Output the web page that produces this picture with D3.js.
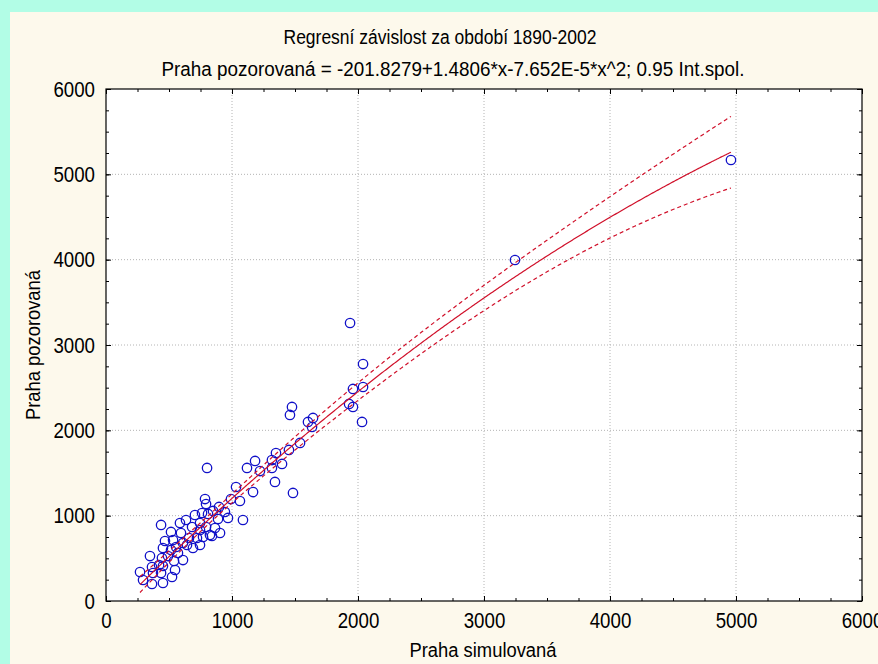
<!DOCTYPE html>
<html>
<head>
<meta charset="utf-8">
<script src="https://cdn.jsdelivr.net/npm/d3@7"></script>
<style>
  html, body { margin: 0; padding: 0; background: #b2fde6; }
  text { font-family: "Liberation Sans", Arial, sans-serif; fill: #000; }
</style>
</head>
<body>
<div id="chart"></div>
<script>
const simulovana = [4960, 3246, 1937, 2040, 2040, 1960, 1929, 1960, 2032, 1476,
  1460, 1603, 1643, 1635, 1540, 1452, 1349, 1183, 1317, 1397,
  1317, 1222, 1119, 802, 1341, 1167, 1484, 1032, 992, 1063,
  786, 794, 897, 849, 762, 810, 968, 1087, 889, 635,
  587, 437, 746, 683, 516, 595, 746, 841, 770, 905,
  722, 659, 746, 532, 611, 556, 452, 516, 611, 540,
  444, 349, 421, 452, 270, 365, 294, 524, 373, 437,
  365, 452, 548, 825, 794, 468, 643, 492, 571, 690,
  865, 944, 706];
const pozorovana = [5168, 3996, 3258, 2777, 2508, 2485, 2309, 2274, 2098, 2274,
  2180, 2098, 2145, 2039, 1852, 1770, 1734, 1641, 1652, 1606,
  1559, 1523, 1559, 1559, 1395, 1277, 1266, 1336, 1195, 1172,
  1195, 1137, 1102, 1055, 1031, 1020, 973, 949, 961, 949,
  914, 891, 914, 867, 809, 797, 832, 762, 750, 797,
  738, 738, 656, 715, 680, 633, 621, 598, 480, 469,
  504, 527, 422, 410, 340, 398, 246, 281, 328, 328,
  199, 211, 363, 773, 867, 703, 656, 527, 563, 621,
  855, 1043, 1008];

// fitted polynomial from the subtitle
const coef = [-201.8279, 1.4806, -7.652E-5];
const tCrit = 1.99;   // t(0.975, n-3)

const xTicks = [0, 1000, 2000, 3000, 4000, 5000, 6000];
const yTicks = [0, 1000, 2000, 3000, 4000, 5000, 6000];

const titleText = "Regresní závislost za období 1890-2002";
const subtitleText = "Praha pozorovaná = -201.8279+1.4806*x-7.652E-5*x^2; 0.95 Int.spol.";
const xLabel = "Praha simulovaná";
const yLabel = "Praha pozorovaná";

const width = 878, height = 664;
const margin = { top: 89, right: 16, bottom: 63, left: 106 };
const innerW = width - margin.left - margin.right;
const innerH = height - margin.top - margin.bottom;

const svg = d3.select("#chart").append("svg")
  .attr("width", width)
  .attr("height", height);

// cream panel
svg.append("rect")
  .attr("x", 10).attr("y", 12)
  .attr("width", width - 10).attr("height", height - 12)
  .attr("fill", "#fdf9ec");

const g = svg.append("g")
  .attr("transform", `translate(${margin.left},${margin.top})`);

const x = d3.scaleLinear([0, 6000], [0, innerW]);
const y = d3.scaleLinear([0, 6000], [innerH, 0]);

g.append("rect")
  .attr("width", innerW).attr("height", innerH)
  .attr("fill", "#fff");

// dotted grid
g.append("g").selectAll("line")
  .data(xTicks.slice(1, -1))
  .join("line")
  .attr("x1", d => x(d)).attr("x2", d => x(d))
  .attr("y1", 0).attr("y2", innerH)
  .attr("stroke", "#b4b4b4").attr("stroke-dasharray", "1,2");
g.append("g").selectAll("line")
  .data(yTicks.slice(1, -1))
  .join("line")
  .attr("y1", d => y(d)).attr("y2", d => y(d))
  .attr("x1", 0).attr("x2", innerW)
  .attr("stroke", "#b4b4b4").attr("stroke-dasharray", "1,2");

// ticks, inward on all four sides
const minor = d3.range(0, 6001, 250);
function addAxis(axisFn, transform, values, size, labels) {
  const a = axisFn.tickValues(values).tickSizeInner(-size).tickSizeOuter(0)
    .tickPadding(axisFn === d3.axisBottom ? 12 : 11)
    .tickFormat(labels ? d3.format("d") : "");
  const ag = g.append("g").attr("transform", transform).call(a);
  ag.select(".domain").remove();
  ag.selectAll(".tick line").attr("stroke", "#000");
  ag.selectAll("text").attr("font-size", 22).attr("font-family", "Liberation Sans, Arial, sans-serif");
  return ag;
}
const bottomAx = addAxis(d3.axisBottom(x), `translate(0,${innerH})`, xTicks, 5, true);
addAxis(d3.axisBottom(x), `translate(0,${innerH})`, minor, 3, false);
const leftAx = addAxis(d3.axisLeft(y), "translate(0,0)", yTicks, 5, true);
addAxis(d3.axisLeft(y), "translate(0,0)", minor, 3, false);
addAxis(d3.axisTop(x), "translate(0,0)", xTicks, 5, false);
addAxis(d3.axisTop(x), "translate(0,0)", minor, 3, false);
addAxis(d3.axisRight(y), `translate(${innerW},0)`, yTicks, 5, false);
addAxis(d3.axisRight(y), `translate(${innerW},0)`, minor, 3, false);

// squeeze tick labels to the narrow look of the original
[bottomAx, leftAx].forEach(ax => ax.selectAll("text").each(function () {
  const len = this.getComputedTextLength();
  d3.select(this).attr("textLength", len * 0.85).attr("lengthAdjust", "spacingAndGlyphs");
}));

// regression and 95% confidence band
const f = v => coef[0] + coef[1] * v + coef[2] * v * v;
const n = simulovana.length;
const rows = simulovana.map(v => [1, v / 1000, (v / 1000) ** 2]);
const xtx = [[0, 0, 0], [0, 0, 0], [0, 0, 0]];
const xty = [0, 0, 0];
rows.forEach((r, k) => {
  for (let i = 0; i < 3; i++) {
    xty[i] += r[i] * pozorovana[k];
    for (let j = 0; j < 3; j++) xtx[i][j] += r[i] * r[j];
  }
});
function inv3(m) {
  const [a, b, c] = m[0], [d, e, ff] = m[1], [gg, h, k] = m[2];
  const A = e * k - ff * h, B = -(d * k - ff * gg), C = d * h - e * gg;
  const det = a * A + b * B + c * C;
  return [
    [A / det, -(b * k - c * h) / det, (b * ff - c * e) / det],
    [B / det, (a * k - c * gg) / det, -(a * ff - c * d) / det],
    [C / det, -(a * h - b * gg) / det, (a * e - b * d) / det]
  ];
}
const xi = inv3(xtx);
const beta = xi.map(row => row[0] * xty[0] + row[1] * xty[1] + row[2] * xty[2]);
let sse = 0;
rows.forEach((r, k) => { sse += (pozorovana[k] - (beta[0] + beta[1] * r[1] + beta[2] * r[2])) ** 2; });
const s2 = sse / (n - 3);
const half = v => {
  const r = [1, v / 1000, (v / 1000) ** 2];
  let q = 0;
  for (let i = 0; i < 3; i++) for (let j = 0; j < 3; j++) q += r[i] * xi[i][j] * r[j];
  return tCrit * Math.sqrt(s2 * q);
};

const xs = d3.range(d3.min(simulovana), d3.max(simulovana), 10).concat([d3.max(simulovana)]);
const line = d3.line().x(d => x(d[0])).y(d => y(d[1]));

// points
g.append("g").selectAll("circle")
  .data(simulovana.map((v, i) => [v, pozorovana[i]]))
  .join("circle")
  .attr("cx", d => x(d[0])).attr("cy", d => y(d[1]))
  .attr("r", 4.7)
  .attr("fill", "none")
  .attr("stroke", "#1010c8")
  .attr("stroke-width", 1.3);

g.append("path").datum(xs.map(v => [v, f(v)]))
  .attr("d", line).attr("fill", "none")
  .attr("stroke", "#d0102a").attr("stroke-width", 1.2);
[1, -1].forEach(sgn => {
  g.append("path").datum(xs.map(v => [v, f(v) + sgn * half(v)]))
    .attr("d", line).attr("fill", "none")
    .attr("stroke", "#d0102a").attr("stroke-width", 1.2)
    .attr("stroke-dasharray", "4,3");
});

// frame
g.append("rect")
  .attr("width", innerW).attr("height", innerH)
  .attr("fill", "none").attr("stroke", "#000").attr("stroke-width", 1.2);

// titles
function squeezed(sel, target) {
  sel.attr("textLength", target).attr("lengthAdjust", "spacingAndGlyphs");
}
squeezed(svg.append("text").attr("x", 440).attr("y", 44)
  .attr("text-anchor", "middle").attr("font-size", 20).text(titleText), 313);
squeezed(svg.append("text").attr("x", 453).attr("y", 76)
  .attr("text-anchor", "middle").attr("font-size", 20).text(subtitleText), 583);
squeezed(svg.append("text").attr("x", 483).attr("y", 657)
  .attr("text-anchor", "middle").attr("font-size", 20).text(xLabel), 147);
squeezed(svg.append("text")
  .attr("transform", "translate(40,345) rotate(-90)")
  .attr("text-anchor", "middle").attr("font-size", 20).text(yLabel), 150);
</script>
</body>
</html>
